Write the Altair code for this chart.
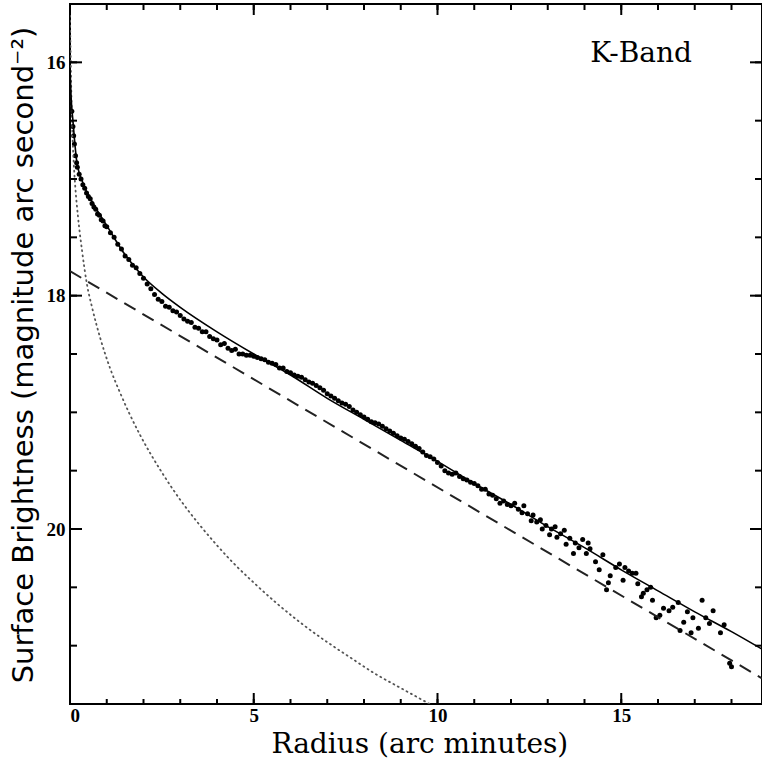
import altair as alt
import pandas as pd

data_x = [0.05, 0.08, 0.10, 0.12, 0.15, 0.18, 0.20, 0.25, 0.30, 0.35, 0.40, 0.45, 0.50, 0.55,
          0.60, 0.65, 0.70, 0.75, 0.80, 0.85, 0.90, 0.95, 1.00,
          1.1, 1.2, 1.3, 1.4, 1.5, 1.6, 1.7, 1.8, 1.9, 2.0, 2.1, 2.2, 2.3, 2.4, 2.5, 2.6, 2.7,
          2.8, 2.9, 3.0, 3.1, 3.2, 3.3, 3.4, 3.5, 3.6, 3.7, 3.8, 3.9, 4.0, 4.1, 4.2, 4.3, 4.4,
          4.5, 4.6, 4.7, 4.8, 4.9, 5.0, 5.1, 5.2, 5.3, 5.4, 5.5, 5.6, 5.7, 5.8, 5.9, 6.0, 6.1,
          6.2, 6.3, 6.4, 6.5, 6.6, 6.7, 6.8, 6.9, 7.0, 7.1, 7.2, 7.3, 7.4, 7.5, 7.6, 7.7, 7.8,
          7.9, 8.0, 8.1, 8.2, 8.3, 8.4, 8.5, 8.6, 8.7, 8.8, 8.9, 9.0, 9.1, 9.2, 9.3, 9.4, 9.5,
          9.6, 9.7, 9.8, 9.9, 10.0, 10.1, 10.2, 10.3, 10.4, 10.5, 10.6, 10.7, 10.8, 10.9, 11.0,
          11.1, 11.2, 11.3, 11.4, 11.5, 11.6, 11.7, 11.8, 11.9, 12.0,
          12.1, 12.2, 12.3, 12.35, 12.45, 12.55, 12.6, 12.7, 12.8, 12.85, 12.95, 13.05, 13.1,
          13.2, 13.25, 13.35, 13.45, 13.5, 13.6, 13.7, 13.75, 13.85, 13.95, 14.05, 14.1, 14.15,
          14.3, 14.4, 14.5, 14.6, 14.65, 14.7, 14.85, 14.95, 15.05, 15.1, 15.2, 15.3, 15.4,
          15.45, 15.55, 15.6, 15.7, 15.8, 15.85, 15.95, 16.05, 16.15, 16.3, 16.4, 16.55, 16.6,
          16.7, 16.8, 16.9, 16.95, 17.1, 17.2, 17.3, 17.4, 17.5, 17.7, 17.8, 17.95, 18.0]
data_mu = [16.42, 16.55, 16.63, 16.70, 16.80, 16.86, 16.90, 16.96, 17.00, 17.05, 17.08, 17.12,
           17.15, 17.17, 17.21, 17.24, 17.26, 17.30, 17.31, 17.35, 17.36, 17.40, 17.41,
           17.46, 17.50, 17.56, 17.60, 17.66, 17.69, 17.74, 17.76, 17.81, 17.85, 17.90, 17.94,
           17.99, 18.03, 18.05, 18.09, 18.10, 18.13, 18.14, 18.17, 18.20, 18.22, 18.23, 18.27,
           18.28, 18.31, 18.31, 18.35, 18.37, 18.38, 18.42, 18.41, 18.45, 18.47, 18.46, 18.50,
           18.50, 18.51, 18.51, 18.52, 18.53, 18.54, 18.55, 18.57, 18.58, 18.59, 18.62, 18.62,
           18.65, 18.66, 18.68, 18.69, 18.70, 18.72, 18.74, 18.75, 18.77, 18.79, 18.81, 18.84,
           18.86, 18.88, 18.90, 18.92, 18.93, 18.95, 18.98, 19.00, 19.02, 19.04, 19.06, 19.08,
           19.09, 19.10, 19.12, 19.14, 19.16, 19.18, 19.20, 19.22, 19.23, 19.25, 19.27, 19.29,
           19.31, 19.34, 19.37, 19.38, 19.40, 19.43, 19.46, 19.50, 19.52, 19.53, 19.52, 19.55,
           19.57, 19.58, 19.60, 19.61, 19.63, 19.66, 19.66, 19.70, 19.71, 19.74, 19.78, 19.76,
           19.79, 19.80,
           19.78, 19.83, 19.86, 19.80, 19.87, 19.93, 19.88, 19.94, 19.92, 20.00, 19.97, 20.05,
           20.00, 19.98, 20.07, 20.04, 20.01, 20.13, 20.08, 20.21, 20.12, 20.16, 20.09, 20.21,
           20.12, 20.17, 20.28, 20.35, 20.22, 20.52, 20.46, 20.40, 20.33, 20.30, 20.44, 20.33,
           20.36, 20.38, 20.38, 20.47, 20.58, 20.55, 20.52, 20.50, 20.61, 20.76, 20.74, 20.68,
           20.70, 20.67, 20.63, 20.87, 20.80, 20.71, 20.89, 20.76, 20.85, 20.61, 20.76, 20.81,
           20.70, 20.89, 20.82, 21.15, 21.18]

# ---- total model (solid) ----
model_x = [0.0, 0.03, 0.08, 0.18, 0.36, 0.63, 1.0, 1.5, 2.0, 2.5, 3.0, 4.0, 5.0, 6.0, 7.0,
           8.0, 9.0, 10.0, 11.0, 12.0, 13.0, 14.0, 15.0, 16.0, 17.0, 18.0, 18.83]
model_mu = [16.05, 16.30, 16.50, 16.84, 17.04, 17.21, 17.40, 17.65, 17.84, 17.98, 18.10, 18.31,
            18.50, 18.68, 18.88, 19.06, 19.24, 19.42, 19.61, 19.79, 19.98, 20.16, 20.35, 20.53,
            20.71, 20.88, 21.03]

# ---- exponential disk (dashed) ----
disk_x = [0.0, 18.83]
disk_mu = [17.79, 21.28]

# ---- bulge (dotted) ----
bulge_x = [0.0, 0.02, 0.05, 0.10, 0.14, 0.22, 0.33, 0.46, 0.60, 0.82, 1.1, 1.36, 1.6, 1.9,
           2.2, 2.45, 3.0, 3.54, 4.0, 4.44, 5.0, 5.6, 6.26, 7.0, 7.62, 8.3, 8.98, 9.5, 9.9, 10.2]
bulge_mu = [15.6, 16.0, 16.45, 16.85, 17.05, 17.33, 17.62, 17.90, 18.10, 18.36, 18.63, 18.83,
            19.00, 19.19, 19.36, 19.49, 19.75, 19.97, 20.14, 20.29, 20.46, 20.63, 20.80, 20.97,
            21.10, 21.24, 21.36, 21.45, 21.52, 21.57]

# ---- axes and texts ----
x_major = [0, 5, 10, 15]
x_minor = list(range(0, 19))
y_major = [16, 18, 20]
y_minor = [16.0, 16.5, 17.0, 17.5, 18.0, 18.5, 19.0, 19.5, 20.0, 20.5, 21.0]
label_text = ["K-Band"]
label_x = [15.54]
label_y = [16.0]
x_title = ["Radius (arc minutes)"]
y_title = ["Surface Brightness (magnitude arc second\u207b\u00b2)"]

X_DOMAIN = [0, 18.83]
Y_DOMAIN = [15.5, 21.5]
W, H = 692, 700
SERIF = "'DejaVu Serif', 'Liberation Serif', serif"

xs = alt.Scale(domain=X_DOMAIN, nice=False, zero=False)
ys = alt.Scale(domain=Y_DOMAIN, nice=False, zero=False, reverse=True)

df_data = pd.DataFrame({"x": data_x, "mu": data_mu})
df_model = pd.DataFrame({"x": model_x, "mu": model_mu})
df_disk = pd.DataFrame({"x": disk_x, "mu": disk_mu})
df_bulge = pd.DataFrame({"x": bulge_x, "mu": bulge_mu})
df_label = pd.DataFrame({"t": label_text, "x": label_x, "mu": label_y})
df_xt = pd.DataFrame({"t": x_title, "x": [9.52], "mu": [21.5]})

x_axis = alt.Axis(values=x_major, title=None, grid=False, domain=False, tickSize=0,
                  labelPadding=2, labelFont="Liberation Serif", labelFontWeight="bold",
                  labelFontSize=19, labelColor="black")
y_axis = alt.Axis(values=y_major, title=None, grid=False, domain=False, tickSize=0,
                  labelPadding=5, labelFont="Liberation Serif", labelFontWeight="bold",
                  labelFontSize=19, labelColor="black")


def X(field):
    return alt.X(field, scale=xs, axis=x_axis, title=None)


def Y(field):
    return alt.Y(field, scale=ys, axis=y_axis, title=None)


points = alt.Chart(df_data).mark_circle(color="black", size=25, opacity=1, clip=True).encode(
    x=X("x:Q"), y=Y("mu:Q"))
model = alt.Chart(df_model).mark_line(color="black", strokeWidth=1.6, interpolate="monotone",
                                      clip=True).encode(x=X("x:Q"), y=Y("mu:Q"))
disk = alt.Chart(df_disk).mark_line(color="#222222", strokeWidth=2, strokeDash=[13, 8],
                                    clip=True).encode(x=X("x:Q"), y=Y("mu:Q"))
bulge = alt.Chart(df_bulge).mark_line(color="#555555", strokeWidth=1.8, strokeDash=[1, 4],
                                      strokeCap="round", interpolate="monotone",
                                      clip=True).encode(x=X("x:Q"), y=Y("mu:Q"))
label = alt.Chart(df_label).mark_text(font=SERIF, fontSize=28, color="black",
                                      align="center", baseline="alphabetic").encode(
    x=X("x:Q"), y=Y("mu:Q"), text="t:N")

# axis titles as text marks
xt = alt.Chart(df_xt).mark_text(
    font=SERIF, fontSize=28, fontWeight="normal", color="black", align="center",
    baseline="alphabetic", dy=49
).encode(x=X("x:Q"), y=Y("mu:Q"), text="t:N")
yt = alt.Chart(pd.DataFrame({"t": y_title})).mark_text(
    font="DejaVu Sans", fontSize=29, color="black", align="center", baseline="alphabetic",
    angle=270
).encode(x=alt.value(-37), y=alt.value(351), text="t:N")

# inward ticks on all four sides
df_xmaj = pd.DataFrame({"x": x_major})
df_xmin = pd.DataFrame({"x": x_minor})
df_ymaj = pd.DataFrame({"mu": y_major})
df_ymin = pd.DataFrame({"mu": y_minor})


def xticks(df, y0, y1):
    return alt.Chart(df).mark_rule(color="black", strokeWidth=2).encode(
        x=X("x:Q"), y=alt.value(y0), y2=alt.value(y1))


def yticks(df, x0, x1):
    return alt.Chart(df).mark_rule(color="black", strokeWidth=2).encode(
        y=Y("mu:Q"), x=alt.value(x0), x2=alt.value(x1))


ticks = [
    xticks(df_xmin, H, H - 5), xticks(df_xmaj, H, H - 11),
    xticks(df_xmin, 0, 6), xticks(df_xmaj, 0, 11),
    yticks(df_ymin, 0, 7), yticks(df_ymaj, 0, 12),
    yticks(df_ymin, W, W - 7), yticks(df_ymaj, W, W - 12),
]

chart = (
    alt.layer(points, bulge, disk, model, label, xt, yt, *ticks)
    .properties(
        width=W, height=H,
        autosize=alt.AutoSizeParams(type="none"),
        padding={"left": 70, "top": 4, "right": 0, "bottom": 57},
        background="white",
    )
    .configure_view(stroke="black", strokeWidth=2)
)

chart.save("out.html", embed_options={"renderer": "svg", "actions": False})
